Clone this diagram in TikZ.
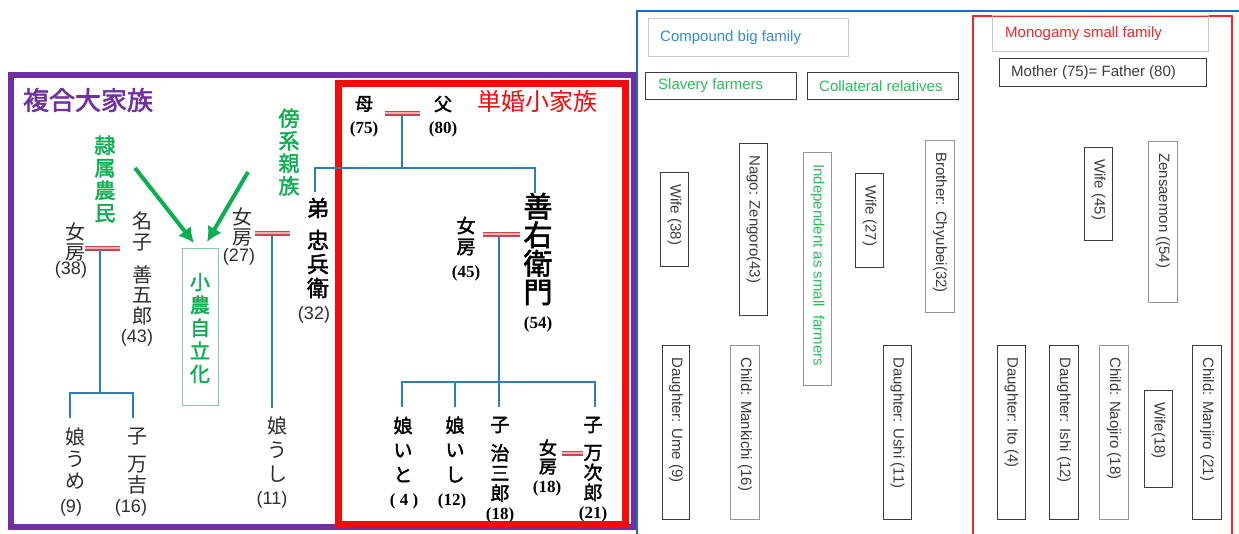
\documentclass[tikz,border=0pt]{standalone}
\usepackage{fontspec}
\setmainfont{Liberation Sans}
\newfontfamily\jp[AutoFakeBold=2]{Noto Sans CJK JP}
\newfontfamily\serifb{Liberation Serif}
\usetikzlibrary{arrows.meta}
\definecolor{purp}{RGB}{112,48,160}
\definecolor{redf}{RGB}{245,10,10}
\definecolor{grn}{RGB}{10,175,80}
\definecolor{grnbox}{RGB}{130,205,160}
\definecolor{treeblue}{RGB}{45,125,185}
\definecolor{marrc}{RGB}{200,70,75}
\definecolor{marrl}{RGB}{240,175,175}
\definecolor{jtxt}{RGB}{45,45,45}
\definecolor{frameblue}{RGB}{25,110,190}
\definecolor{etxt}{RGB}{60,60,60}
\definecolor{dbox}{RGB}{60,60,60}
\definecolor{lbox}{RGB}{150,150,150}
\definecolor{vlbox}{RGB}{200,200,200}
\definecolor{eblue}{RGB}{50,140,210}
\definecolor{egreen}{RGB}{40,190,90}
\definecolor{ered}{RGB}{240,40,40}
\tikzset{
  jl/.style={align=center, inner sep=0pt, text=jtxt, font=\jp\fontsize{20}{20.5}\selectfont},
  jb/.style={align=center, inner sep=0pt, text=black, font=\jp\bfseries\fontsize{22}{24}\selectfont},
  jage/.style={inner sep=0pt, text=jtxt, font=\fontsize{18}{18}\selectfont},
  jr/.style={align=center, inner sep=0pt, text=black, font=\jp\bfseries\fontsize{19}{24.5}\selectfont},
  rage/.style={inner sep=0pt, text=black, font=\serifb\bfseries\fontsize{17}{17}\selectfont},
  grnv/.style={align=center, inner sep=0pt, text=grn, font=\jp\bfseries\fontsize{21}{22.5}\selectfont},
  tree/.style={draw=treeblue, line width=2.5pt},
  marr/.style={draw=marrc, line width=1.6pt, double=marrl, double distance=1.8pt},
  garrow/.style={draw=grn, line width=4pt, -{Latex[length=15pt,width=16pt]}},
  ebox/.style={draw=dbox, line width=1pt, inner sep=0pt, anchor=north west},
  etext/.style={font=\fontsize{15}{16}\selectfont, text=etxt, inner sep=0pt},
  vtext/.style={etext, rotate=-90, anchor=west},
  htext/.style={etext, anchor=west}
}
\newcommand\ebx[6]{\node[ebox,#2,minimum width=#5-#3,minimum height=#6-#4] (#1) at (#3,#4) {};}
\newcommand\vtx[3]{\node[vtext,#3] (#1t) at ([yshift=-12pt]#1.north) {#2};}
\newcommand\htx[4]{\node[htext,#4] (#1t) at ([xshift=#3pt]#1.west) {#2};}
\begin{document}
\begin{tikzpicture}[x=1pt,y=-1pt]
\useasboundingbox (0,0) rectangle (1239,533);
\fill[white] (0,0) rectangle (1239,533);

% ---------------- left: Japanese chart ----------------
\draw[purp, line width=6pt] (11,75) rectangle (634,527);
\draw[redf, line width=7pt] (338.5,83.5) rectangle (625,524);

\node[inner sep=0pt, text=purp, font=\jp\bfseries\fontsize{26}{26}\selectfont] (t1) at (88,100) {複合大家族};
\node[inner sep=0pt, text=redf, font=\jp\fontsize{24}{24}\selectfont] (t2) at (537,101) {単婚小家族};

% green labels and arrows
\node[grnv] (rz) at (105,179) {隷\\属\\農\\民};
\node[grnv] (bk) at (289,152) {傍\\系\\親\\族};
\node[draw=grnbox, line width=1pt, minimum width=36, minimum height=157, inner sep=0pt] (ind) at (200,326.5) {};
\node[grnv, font=\jp\bfseries\fontsize{20}{23}\selectfont] (indt) at (200,328) {小\\農\\自\\立\\化};
\coordinate (a1s) at (135,168);
\coordinate (a1e) at (194,243);
\coordinate (a2s) at (248,172);
\coordinate (a2e) at (207,242);
\draw[garrow] (a1s) -- (a1e);
\draw[garrow] (a2s) -- (a2e);

% slave farmer family
\node[jl] (w38) at (75,242) {女\\房};
\node[jage] (w38a) at (71,270) {(38)};
\node[jl, font=\jp\fontsize{20}{21}\selectfont] (nago1) at (142,231) {名\\子};
\node[jl] (nago2) at (142,295) {善\\五\\郎};
\node[jage] (nago3) at (137,338) {(43)};
\node[jl, font=\jp\fontsize{20}{22}\selectfont] (ume) at (75,459) {娘\\う\\め};
\node[jage] (umea) at (71,508) {(9)};
\node[jl] (mk1) at (137,437) {子};
\node[jl] (mk2) at (137,475) {万\\吉};
\node[jage] (mka) at (131,508) {(16)};
\coordinate (b38L) at (85,248);
\coordinate (b38R) at (120,248);
\coordinate (b38m) at (100,250);
\coordinate (j38) at (100,393);
\coordinate (c38a) at (70,418);
\coordinate (c38b) at (133,418);
\draw[marr] (b38L) -- (b38R);
\draw[tree] (b38m) -- (j38);
\draw[tree] (c38a) |- (j38) -| (c38b);

% collateral family
\node[jl] (w27) at (242,227) {女\\房};
\node[jage] (w27a) at (239,257) {(27)};
\node[jl, font=\jp\fontsize{20}{24}\selectfont] (ushi) at (277,450) {娘\\う\\し};
\node[jage] (ushia) at (272,500) {(11)};
\node[jb] (oto1) at (318,208) {弟};
\node[jb] (oto2) at (318,264) {忠\\兵\\衛};
\node[jage] (otoa) at (314,315) {(32)};
\coordinate (b27L) at (255,233);
\coordinate (b27R) at (290,233);
\coordinate (b27m) at (272,235);
\coordinate (c27) at (272,408);
\draw[marr] (b27L) -- (b27R);
\draw[tree] (b27m) -- (c27);

% monogamy family
\node[jr, font=\jp\bfseries\fontsize{18}{18}\selectfont] (mo) at (364,104) {母};
\node[rage] (moa) at (364,129) {(75)};
\node[jr, font=\jp\bfseries\fontsize{18}{18}\selectfont] (fa) at (443,104) {父};
\node[rage] (faa) at (443,129) {(80)};
\node[jr, font=\jp\bfseries\fontsize{29}{28.5}\selectfont] (zen) at (538,249) {善\\右\\衛\\門};
\node[rage] (zena) at (538,324) {(54)};
\node[jr, font=\jp\bfseries\fontsize{19}{21}\selectfont] (w45) at (466,236) {女\\房};
\node[rage] (w45a) at (466,273) {(45)};
\node[jr] (ito) at (403,449.5) {娘\\い\\と};
\node[rage] (itoa) at (404,501) {( 4 )};
\node[jr] (ishi) at (455,449.5) {娘\\い\\し};
\node[rage] (ishia) at (452,501) {(12)};
\node[jr] (nj1) at (500,425) {子};
\node[jr, font=\jp\bfseries\fontsize{19}{20}\selectfont] (nj2) at (500,473) {治\\三\\郎};
\node[rage] (nja) at (500,515) {(18)};
\node[jr] (mj1) at (593,425) {子};
\node[jr, font=\jp\bfseries\fontsize{19}{20}\selectfont] (mj2) at (593,473) {万\\次\\郎};
\node[rage] (mja) at (593,514) {(21)};
\node[jr, font=\jp\bfseries\fontsize{18}{18.5}\selectfont] (w18) at (548,457) {女\\房};
\node[rage] (w18a) at (547,488) {(18)};

\coordinate (pmL) at (385,113);
\coordinate (pmR) at (420,113);
\coordinate (pm) at (402,115);
\coordinate (pj) at (402,168);
\coordinate (otoTop) at (315,192);
\coordinate (zenTop) at (535,193);
\draw[marr] (pmL) -- (pmR);
\draw[tree] (pm) -- (pj);
\draw[tree] (otoTop) |- (pj) -| (zenTop);

\coordinate (zmL) at (483,234);
\coordinate (zmR) at (520,234);
\coordinate (zm) at (499,236);
\coordinate (zj) at (499,382);
\coordinate (cIto) at (402,407);
\coordinate (cIshi) at (455,407);
\coordinate (cNj) at (499,407);
\coordinate (cMj) at (595,407);
\draw[marr] (zmL) -- (zmR);
\draw[tree] (zm) -- (cNj);
\draw[tree] (cIto) |- (zj) -| (cMj);
\draw[tree] (cIshi) -- (cIshi |- zj);
\coordinate (mmL) at (562,453);
\coordinate (mmR) at (583,453);
\draw[marr] (mmL) -- (mmR);

% ---------------- right: English layout ----------------
\draw[frameblue, line width=2pt] (637,540) -- (637,11) -- (1245,11);
\draw[ered, line width=1.5pt] (973,540) -- (973,16) -- (1232,16) -- (1232,540);

\ebx{cbf}{draw=vlbox}{648}{18}{848}{56}
\htx{cbf}{Compound big family}{12}{text=eblue}
\ebx{sf}{}{645}{72}{796}{99}
\htx{sf}{Slavery farmers}{13}{text=egreen}
\ebx{cr}{}{807}{72}{958}{99}
\htx{cr}{Collateral relatives}{12}{text=egreen}

\ebx{ew38}{}{660}{172}{688}{266}
\vtx{ew38}{Wife (38)}{}
\ebx{enago}{}{739}{143}{767}{315}
\vtx{enago}{Nago: Zengoro(43)}{}
\ebx{eind}{draw=lbox}{803}{152}{831}{385}
\vtx{eind}{Independent as small\ \ farmers}{text=egreen}
\ebx{ew27}{}{855}{173}{883}{267}
\vtx{ew27}{Wife (27)}{}
\ebx{ebro}{draw=lbox}{925}{140}{954}{312}
\vtx{ebro}{Brother: Chyubei(32)}{}
\ebx{eume}{}{662}{345}{689}{519}
\vtx{eume}{Daughter: Ume (9)}{}
\ebx{emk}{draw=lbox}{730}{345}{759}{519}
\vtx{emk}{Child: Mankichi (16)}{}
\ebx{eushi}{}{883}{345}{911}{519}
\vtx{eushi}{Daughter: Ushi (11)}{}

\ebx{emsf}{draw=vlbox}{992}{15}{1208}{51}
\htx{emsf}{Monogamy small family}{13}{text=ered}
\ebx{emf}{}{999}{58}{1206}{86}
\htx{emf}{Mother (75)= Father (80)}{12}{}
\ebx{ew45}{}{1084}{147}{1112}{240}
\vtx{ew45}{Wife (45)}{}
\ebx{ezen}{draw=lbox}{1148}{141}{1177}{302}
\vtx{ezen}{Zensaemon ((54)}{}
\ebx{eito}{}{997}{345}{1025}{519}
\vtx{eito}{Daughter: Ito (4)}{}
\ebx{eishi}{}{1049}{345}{1078}{519}
\vtx{eishi}{Daughter: Ishi (12)}{}
\ebx{enao}{draw=lbox}{1099}{345}{1128}{519}
\vtx{enao}{Child: Naojiro (18)}{}
\ebx{ew18}{}{1144}{390}{1172}{487}
\vtx{ew18}{Wife(18)}{}
\ebx{emj}{}{1192}{345}{1221}{519}
\vtx{emj}{Child: Manjiro (21)}{}
\end{tikzpicture}
\end{document}
